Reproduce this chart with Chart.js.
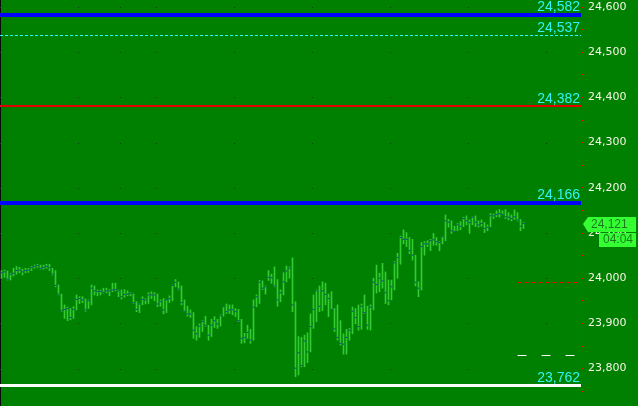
<!DOCTYPE html>
<html>
<head>
<meta charset="utf-8">
<script src="https://cdn.jsdelivr.net/npm/chart.js@4.4.1/dist/chart.umd.min.js"></script>
<style>
    html, body { margin: 0; padding: 0; background: #008000; }
    #grafico { display: block; }
</style>
</head>
<body>
<canvas id="grafico" width="638" height="406"></canvas>
<script>
// Barras de preço (máxima, mínima, fechamento)
const highs = [
    24017, 24018, 24016, 24011, 24022, 24026, 24024, 24020, 24022, 24022, 24026, 24029, 24031, 24029, 24029, 24031, 24031, 24022, 24017, 23985,
    23965, 23941, 23936, 23933, 23937, 23963, 23959, 23959, 23954, 23952, 23985, 23983, 23974, 23974, 23978, 23978, 23975, 23989, 23989, 23974,
    23974, 23975, 23972,
    23968, 23965, 23948, 23944, 23959, 23955, 23968, 23970, 23968, 23965, 23952, 23955, 23953, 23961, 23985, 23997, 23992, 23983, 23952, 23938,
    23930, 23924, 23893, 23899, 23906, 23916, 23896, 23909, 23915, 23909, 23919, 23938, 23943, 23941, 23941, 23933, 23931, 23909, 23878, 23896,
    23887, 23952, 23963, 23995,
    23994, 23983, 24017, 24009, 24025, 23997, 23974, 24012, 24027, 24025, 24045, 23948, 23871, 23869, 23874, 23879, 23921, 23963, 23974, 23983,
    23992, 23989, 23965, 23970, 23933, 23941, 23906, 23877, 23887, 23889, 23936, 23933, 23941, 23943, 23963, 23938, 23941, 24000, 24029, 24011,
    24033, 24014, 23996,
    23996, 24037, 24055, 24093, 24107, 24101, 24090, 24086, 24051, 23992, 24079, 24081, 24083, 24086, 24099, 24090, 24081, 24093, 24140, 24130,
    24127, 24115, 24121, 24125, 24135, 24138, 24129, 24136, 24138, 24127, 24129, 24123, 24118, 24143, 24142, 24149, 24152, 24149, 24152, 24145,
    24140, 24151, 24145, 24130, 24123
];
const lows = [
    24000, 24002, 23996, 23996, 24005, 24009, 24012, 24007, 24012, 24013, 24017, 24022, 24024, 24020, 24020, 24022, 24017, 24007, 23981, 23963,
    23926, 23911, 23906, 23908, 23911, 23930, 23944, 23946, 23927, 23933, 23941, 23963, 23961, 23963, 23967, 23968, 23961, 23970, 23972, 23959,
    23954, 23958, 23961,
    23961, 23944, 23926, 23924, 23941, 23943, 23944, 23955, 23950, 23937, 23938, 23921, 23924, 23946, 23950, 23981, 23974, 23941, 23926, 23916,
    23913, 23867, 23863, 23869, 23882, 23894, 23863, 23871, 23891, 23889, 23894, 23916, 23922, 23922, 23919, 23915, 23904, 23856, 23857, 23867,
    23856, 23863, 23937, 23944,
    23975, 23965, 23995, 23989, 23981, 23938, 23948, 23963, 23992, 24000, 23926, 23782, 23786, 23804, 23804, 23813, 23837, 23889, 23904, 23926,
    23928, 23941, 23915, 23930, 23882, 23863, 23852, 23832, 23832, 23863, 23877, 23899, 23885, 23887, 23922, 23887, 23885, 23930, 23967, 23970,
    23978, 23944, 23941,
    23952, 23974, 24000, 24031, 24076, 24070, 24054, 24040, 23983, 23959, 23974, 24051, 24070, 24061, 24073, 24073, 24061, 24076, 24083, 24113,
    24099, 24103, 24105, 24107, 24114, 24118, 24099, 24118, 24114, 24113, 24115, 24101, 24105, 24114, 24132, 24136, 24135, 24140, 24132, 24129,
    24127, 24130, 24127, 24105, 24110
];
const closes = [
    24012, 24014, 23998, 24009, 24011, 24017, 24018, 24014, 24017, 24018, 24023, 24026, 24028, 24022, 24024, 24026, 24023, 24009, 23984, 23965,
    23928, 23931, 23933, 23913, 23931, 23953, 23955, 23952, 23930, 23950, 23978, 23972, 23971, 23971, 23969, 23972, 23972, 23974, 23975, 23972,
    23959, 23964, 23965,
    23966, 23946, 23931, 23943, 23953, 23952, 23963, 23963, 23963, 23943, 23948, 23930, 23952, 23955, 23984, 23991, 23976, 23946, 23927, 23921,
    23921, 23885, 23877, 23894, 23904, 23896, 23874, 23896, 23906, 23899, 23917, 23937, 23926, 23930, 23930, 23926, 23906, 23867, 23869, 23880,
    23863, 23936, 23959, 23991,
    23978, 23981, 24002, 24001, 23983, 23952, 23968, 23992, 24016, 24022, 23941, 23801, 23835, 23807, 23861, 23837, 23893, 23931, 23972, 23938,
    23972, 23964, 23955, 23931, 23888, 23869, 23856, 23854, 23869, 23885, 23927, 23913, 23893, 23938, 23924, 23896, 23936, 23991, 23986, 24000,
    23994, 23968, 23950,
    23981, 24034, 24046, 24090, 24086, 24086, 24061, 24051, 23991, 23978, 24070, 24076, 24076, 24083, 24085, 24081, 24079, 24092, 24127, 24124,
    24105, 24103, 24118, 24115, 24132, 24127, 24123, 24135, 24124, 24118, 24121, 24110, 24113, 24138, 24138, 24141, 24143, 24141, 24136, 24135,
    24132, 24136, 24129, 24115, 24121
];

// Marcas do eixo de preço (rótulo a cada 100)
const yTicks = [23750, 23800, 23850, 23900, 23950, 24000, 24050, 24100, 24150, 24200, 24250, 24300, 24350, 24400, 24450, 24500, 24550, 24600];

// Níveis horizontais e ordens
const levels = [24582, 24537, 24382, 24166, 23762];
const orderLevels = [23992, 23830];
const orderStart = 172;
const timerText = '04:04';

// Colunas da grade (índice da barra)
const gridCols = [0, 26, 40, 52, 78, 104, 130, 156, 182];

// Estilos
const levelStyles = [
    { color: '#0000ff', width: 4, dash: [] },
    { color: '#22ffff', width: 1, dash: [3, 2] },
    { color: '#e00000', width: 2, dash: [] },
    { color: '#0000ff', width: 4, dash: [] },
    { color: '#ffffff', width: 3, dash: [] }
];
const orderStyles = [
    { color: '#ff0000', width: 1, dash: [4, 3] },
    { color: '#ffffff', width: 1, dash: [9, 15] }
];
const FONTE = "'DejaVu Sans', sans-serif";
const FONTE_ROTULO = "'Liberation Sans', Arial, sans-serif";

function fmt(v) {
    return v.toLocaleString('en-US');
}

// Fundo verde, borda esquerda e pontos da grade
const fundo = {
    id: 'fundo',
    beforeDraw(chart) {
        const ctx = chart.ctx;
        ctx.save();
        ctx.fillStyle = '#008000';
        ctx.fillRect(0, 0, chart.width, chart.height);
        ctx.fillStyle = '#0a0a0a';
        ctx.fillRect(0, 0, 1, chart.height);
        const xs = chart.scales.x, ys = chart.scales.y;
        ctx.fillStyle = '#0b3f0b';
        gridCols.forEach(c => {
            const px = Math.round(xs.getPixelForValue(c)) - 1;
            yTicks.forEach(t => {
                if (t % 100 !== 0) return;
                const py = Math.round(ys.getPixelForValue(t));
                ctx.fillRect(px, py, 1, 1);
            });
        });
        ctx.restore();
    }
};

// Linhas de nível com rótulo
const niveis = {
    id: 'niveis',
    beforeDatasetsDraw(chart) {
        const ctx = chart.ctx;
        const { left, right } = chart.chartArea;
        const ys = chart.scales.y, xs = chart.scales.x;
        ctx.save();
        levels.forEach((v, k) => {
            const st = levelStyles[k];
            const y = ys.getPixelForValue(v);
            if (st.dash.length) {
                ctx.strokeStyle = st.color;
                ctx.lineWidth = st.width;
                ctx.setLineDash(st.dash);
                ctx.beginPath();
                ctx.moveTo(left, Math.round(y) + 0.5);
                ctx.lineTo(right, Math.round(y) + 0.5);
                ctx.stroke();
                ctx.setLineDash([]);
            } else {
                ctx.fillStyle = st.color;
                ctx.fillRect(left, Math.round(y - st.width / 2), right - left, st.width);
            }
            ctx.fillStyle = '#2ef5f5';
            ctx.font = '14px ' + FONTE_ROTULO;
            ctx.textAlign = 'right';
            ctx.textBaseline = 'alphabetic';
            ctx.fillText(fmt(v), right - 1, Math.round(y - Math.max(st.width / 2, 1) - 2));
        });
        orderLevels.forEach((v, k) => {
            const st = orderStyles[k];
            const y = Math.round(ys.getPixelForValue(v)) + 0.5;
            ctx.strokeStyle = st.color;
            ctx.lineWidth = st.width;
            ctx.setLineDash(st.dash);
            ctx.beginPath();
            ctx.moveTo(xs.getPixelForValue(orderStart), y);
            ctx.lineTo(right - 1, y);
            ctx.stroke();
        });
        ctx.restore();
    }
};

// Linha do eixo, etiqueta do último preço e cronômetro
const etiqueta = {
    id: 'etiqueta',
    afterDraw(chart) {
        const ctx = chart.ctx;
        const ys = chart.scales.y;
        const right = chart.chartArea.right;
        ctx.save();
        ctx.fillStyle = '#ff0000';
        ctx.fillRect(right, 0, 1, chart.height);

        const last = closes[closes.length - 1];
        const y = Math.round(ys.getPixelForValue(last));
        const x0 = right + 2;
        ctx.fillStyle = '#33ff33';
        ctx.beginPath();
        ctx.moveTo(x0, y);
        ctx.lineTo(x0 + 5, y - 7);
        ctx.lineTo(636, y - 7);
        ctx.lineTo(636, y + 8);
        ctx.lineTo(x0 + 5, y + 8);
        ctx.closePath();
        ctx.fill();
        ctx.fillRect(599, y + 9, 37, 14);
        ctx.fillStyle = '#1f7a1f';
        ctx.font = '12px ' + FONTE_ROTULO;
        ctx.textAlign = 'left';
        ctx.textBaseline = 'middle';
        ctx.fillText(fmt(last), x0 + 8, y + 1);
        ctx.fillText(timerText, 603, y + 16);
        ctx.restore();
    }
};

new Chart(document.getElementById('grafico'), {
    type: 'bar',
    data: {
        datasets: [
            {
                type: 'scatter',
                data: closes.map((c, i) => ({ x: i, y: c })),
                pointStyle: 'line',
                radius: 1,
                borderColor: '#1c3f8f',
                borderWidth: 1,
                order: 0
            },
            {
                type: 'bar',
                data: highs.map((h, i) => ({ x: i, y: [lows[i], h] })),
                backgroundColor: '#33cc33',
                barThickness: 1,
                borderWidth: 0,
                order: 1
            }
        ]
    },
    options: {
        responsive: false,
        animation: false,
        events: [],
        layout: { padding: 0, autoPadding: false },
        plugins: {
            legend: { display: false },
            tooltip: { enabled: false }
        },
        scales: {
            x: {
                type: 'linear',
                min: -0.5,
                max: 193.1667,
                offset: false,
                display: false
            },
            y: {
                position: 'right',
                min: 23717.3,
                max: 24615.5,
                afterBuildTicks(scale) {
                    scale.ticks = yTicks.map(v => ({ value: v }));
                },
                afterFit(scale) {
                    scale.width = 57;
                    scale.paddingTop = 0;
                    scale.paddingBottom = 0;
                },
                ticks: {
                    autoSkip: false,
                    padding: 4,
                    color: '#f5f5e6',
                    font: { family: FONTE, size: 11 },
                    callback: v => (v % 100 === 0 ? fmt(v) : '')
                },
                grid: {
                    drawOnChartArea: false,
                    drawTicks: true,
                    tickLength: 3,
                    color: '#ff0000'
                },
                border: { display: true, color: '#ff0000', width: 1 }
            }
        }
    },
    plugins: [fundo, niveis, etiqueta]
});
</script>
</body>
</html>
